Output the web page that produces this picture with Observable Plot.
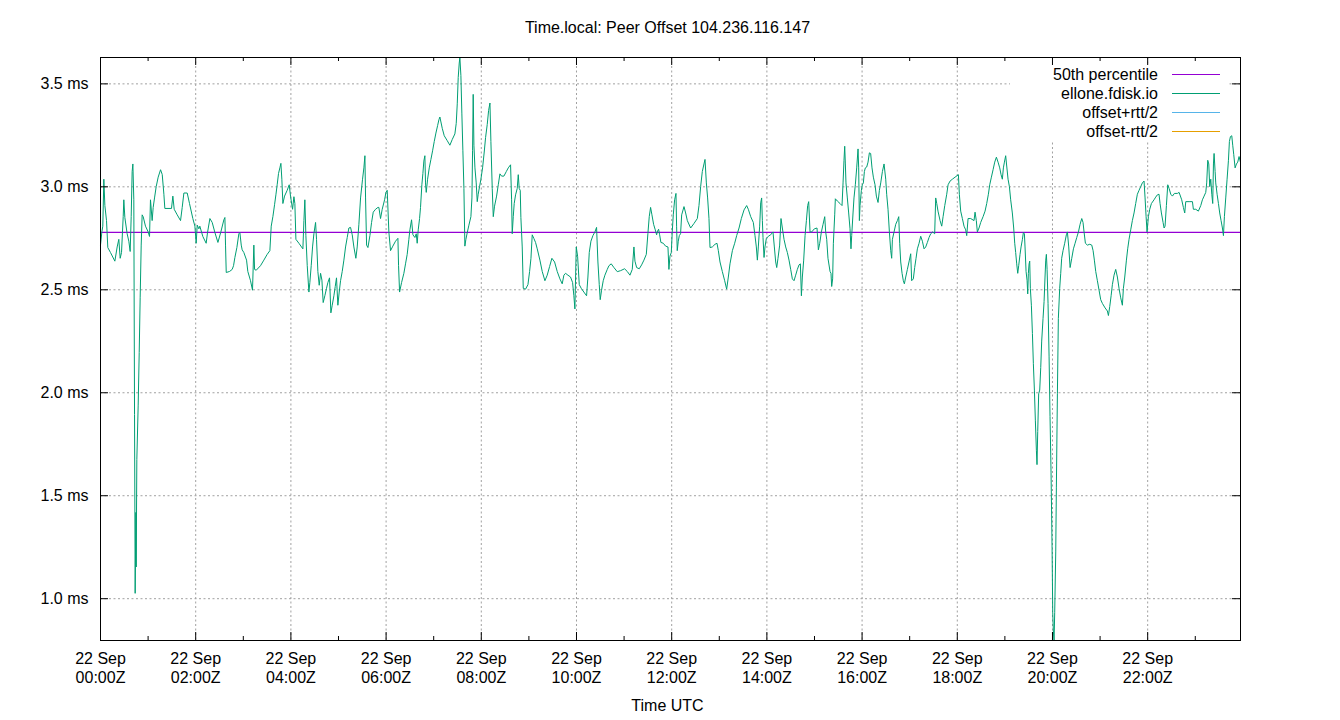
<!DOCTYPE html>
<html><head><meta charset="utf-8">
<script src="https://cdn.jsdelivr.net/npm/d3@7"></script>
<script src="https://cdn.jsdelivr.net/npm/@observablehq/plot@0.6"></script>
<style>
body{margin:0;background:#fff;font-family:"Liberation Sans",Arial,sans-serif;color:#000;}
#wrap{position:relative;width:1340px;height:720px;overflow:hidden;}
#title{height:40px;box-sizing:border-box;padding-top:19px;padding-right:5px;line-height:18px;font-size:16px;text-align:center;}
#legend{position:absolute;left:1010px;top:66px;width:218px;height:74px;background:#fff;}
.ltext{position:absolute;font-size:16px;line-height:19px;height:19px;white-space:nowrap;text-align:right;}
.lline{position:absolute;height:0;}
</style></head>
<body>
<div id="wrap">
<div id="title"></div>
<div id="chart"></div>
<div id="legend"></div>
</div>
<script>
const titleText = "Time.local: Peer Offset 104.236.116.147";
const xLabel = "Time UTC";
const dayLabel = "22 Sep";
const seriesNames = ["50th percentile", "ellone.fdisk.io", "offset+rtt/2", "offset-rtt/2"];
const seriesColors = ["#9400d3", "#009e73", "#56b4e9", "#e69f00"];
const median = 2.779;
const yTicks = [1.0, 1.5, 2.0, 2.5, 3.0, 3.5];
const xMajor = [0, 120, 240, 360, 480, 600, 720, 840, 960, 1080, 1200, 1320];
const xMinor = [60, 180, 300, 420, 540, 660, 780, 900, 1020, 1140, 1260, 1380];
const xDomain = [0, 1437];
const yDomain = [0.797, 3.628];

// minutes after 00:00Z
const times = [0,1.7,2.9,4.2,5.5,7.6,9.2,12.6,18.1,21.0,23.1,24.8,26.5,28.6,29.4,30.7,33.6,35.7,37.4,38.7,39.9,40.8,42.0,42.9,43.7,44.6,45.0,45.8,47.5,48.8,50.0,51.3,52.5,53.8,56.7,60.1,61.8,63.0,65.1,66.4,68.1,70.2,72.7,75.7,77.8,79.9,81.1,89.5,91.2,92.9,96.7,100.9,103.0,105.1,109.3,112.2,116.4,119.0,120.6,121.9,124.0,125.2,129.0,133.2,134.9,137.9,140.8,144.2,148.0,151.7,155.5,156.8,157.6,158.5,162.7,166.0,167.7,169.4,171.9,174.4,175.7,177.4,178.6,
180.7,184.1,185.7,189.1,191.6,193.3,194.2,196.3,201.7,205.9,210.1,213.5,215.2,217.3,219.4,221.1,222.7,224.4,226.1,227.4,228.6,229.9,232.0,235.3,237.9,239.5,242.1,243.8,245.0,246.3,250.1,253.4,255.1,256.4,257.6,258.9,260.6,262.7,263.9,265.6,267.3,269.0,271.1,272.3,274.0,275.7,277.4,279.1,280.7,282.8,284.9,286.6,288.7,290.4,292.1,294.2,295.9,297.5,299.2,300.9,302.6,304.7,306.8,308.9,311.0,313.1,315.2,317.3,319.4,321.9,323.6,325.7,327.8,330.3,332.0,333.3,334.1,335.4,337.1,339.6,341.7,343.8,346.7,349.7,350.9,353.0,355.1,358.1,359.8,361.4,
363.5,365.6,368.5,371.9,374.9,375.7,377.0,379.5,382.4,384.5,386.6,388.7,390.0,392.1,393.8,396.3,398.0,399.2,400.5,402.2,403.4,405.1,406.4,407.6,408.9,409.7,410.6,412.3,414.4,416.5,418.6,420.7,422.8,424.9,426.6,427.8,430.8,433.3,437.1,440.4,443.4,446.7,448.4,449.7,450.9,452.2,453.0,454.3,455.5,456.8,458.1,459.3,460.6,462.3,464.4,466.9,468.2,469.0,469.8,470.7,472.0,473.6,474.9,476.1,477.8,479.5,481.6,483.7,485.4,487.5,489.2,490.9,492.1,493.8,495.1,496.7,499.3,501.4,503.5,505.6,508.5,511.5,514.0,516.9,518.2,519.0,520.3,521.5,523.2,525.3,526.6,527.8,529.1,529.9,531.6,532.9,535.8,538.8,540.9,542.6,544.2,546.3,548.4,
550.5,553.9,556.8,560.2,563.1,566.1,569.0,572.4,575.7,579.1,582.0,584.1,586.2,589.2,592.5,595.1,596.7,598.0,599.7,601.4,603.5,606.0,609.3,612.7,614.4,616.1,618.2,620.7,623.2,625.3,627.0,628.7,629.9,631.6,633.7,635.8,638.8,640.9,643.8,647.2,651.4,655.6,660.6,664.0,667.4,670.3,672.4,673.7,675.8,679.1,682.1,685.0,688.0,690.0,691.7,693.4,695.1,697.2,699.3,701.0,702.2,703.5,704.8,706.4,709.4,712.3,715.3,716.5,717.8,719.5,720.7,722.0,723.7,725.4,726.2,727.0,728.3,729.6,731.2,
732.6,735.5,737.6,739.7,743.9,748.1,752.3,754.4,756.5,758.6,760.7,762.0,763.7,765.3,767.0,768.3,771.2,774.6,777.1,778.8,780.9,783.8,786.8,789.3,791.4,793.5,796.5,799.4,801.9,804.9,807.8,811.2,814.5,816.6,819.6,822.9,825.0,826.7,828.0,829.2,830.9,832.2,833.4,834.3,835.1,836.4,837.6,839.3,841.8,844.8,847.7,849.4,851.1,852.4,854.0,856.1,857.8,859.5,861.6,863.7,865.8,867.9,870.0,872.1,874.2,876.3,878.4,880.5,882.2,883.5,884.7,886.4,888.1,889.8,891.4,892.7,894.4,896.5,899.8,903.2,904.9,906.6,908.7,910.8,912.9,
914.1,915.4,917.0,919.6,920.8,921.7,922.9,923.8,925.5,926.3,928.8,932.2,934.7,936.0,937.2,938.1,938.9,939.7,941.4,943.1,944.8,946.0,946.9,948.6,949.8,951.5,953.2,954.9,955.7,956.6,957.4,959.1,960.3,961.6,962.9,964.1,965.8,967.5,969.2,970.8,972.5,974.2,976.3,978.0,980.1,981.8,983.5,985.6,987.7,989.8,991.0,992.7,994.4,996.1,997.3,998.2,1000.3,1002.4,1004.5,1006.2,1007.4,1008.7,1010.4,1012.0,1013.3,1015.0,1017.1,1019.6,1021.3,1022.5,1024.6,1026.3,1028.0,1029.7,1031.8,1033.9,1036.0,1038.1,1040.2,1042.3,1044.4,1046.5,1049.0,1051.5,1052.8,1054.1,1055.7,1058.3,1060.4,1062.1,1064.2,1066.7,1068.4,1070.9,1073.8,1077.2,1081.4,1082.6,1084.3,1086.4,1088.5,1090.6,1091.9,1093.6,1096.9,
1101.1,1102.4,1104.0,1105.3,1107.4,1109.5,1112.5,1115.0,1117.1,1119.2,1120.9,1123.0,1125.1,1127.2,1129.3,1131.4,1133.5,1135.2,1136.8,1138.1,1139.4,1141.0,1142.3,1144.0,1145.7,1147.3,1149.4,1151.1,1152.4,1153.6,1154.9,1156.2,1157.4,1159.1,1160.4,1162.1,1163.3,1164.6,1165.4,1166.7,1168.0,1168.8,1169.6,1170.5,1171.3,1172.1,1173.4,1174.7,1175.9,1177.2,1178.4,1179.7,1180.5,1181.4,1182.6,1183.9,1185.2,1186.4,1188.1,1189.4,1190.6,1191.5,1192.3,1193.2,1194.4,1195.7,1196.9,1198.2,1199.5,1200.3,1201.1,1202.0,1202.8,1204.1,1204.9,1206.2,1207.4,1209.1,1210.4,1211.6,1213.3,1215.4,1217.5,1218.8,1220.5,1222.2,1224.3,1226.4,1228.5,1230.6,1232.7,1234.8,1236.9,1238.5,1239.8,1241.5,1244.0,1247.0,1249.5,1251.2,1252.8,1254.5,1256.6,1258.7,1260.8,1262.9,1266.3,1269.2,1270.5,1272.2,1273.9,1275.5,1277.6,1279.7,
1281.8,1283.9,1286.0,1288.1,1289.4,1291.1,1293.2,1294.8,1296.5,1298.6,1300.7,1302.8,1304.9,1307.0,1309.1,1311.2,1313.3,1315.4,1316.7,1318.0,1319.2,1320.9,1322.6,1324.7,1328.0,1330.1,1332.2,1334.3,1335.6,1337.3,1339.4,1340.7,1341.9,1343.6,1345.3,1347.0,1349.1,1351.2,1353.7,1357.5,1359.6,1362.9,1365.0,1366.7,1368.0,1372.2,1376.4,1377.6,1380.6,1383.9,1386.9,1389.0,1391.1,1393.2,1394.4,1395.7,1397.0,1398.2,1399.5,1400.8,1402.0,1402.9,1403.7,1405.0,1405.8,1407.5,1409.2,1410.8,1412.5,1414.2,1415.5,1416.7,1418.4,1420.1,1421.8,1423.0,1424.3,1426.0,1427.2,1428.5,1430.2,1431.9,1433.5,1435.2,1436.9];

// peer offset, ms
const offsets = [2.717,2.781,2.809,3.037,2.909,2.836,2.705,2.681,2.639,2.708,2.745,2.653,2.681,2.855,2.937,2.851,2.772,2.736,2.686,2.855,3.074,3.111,2.937,1.894,1.026,1.419,1.154,1.675,1.940,2.196,2.461,2.717,2.864,2.855,2.809,2.781,2.759,2.937,2.836,2.900,2.946,3.001,3.047,3.083,3.060,2.964,2.895,2.895,2.955,2.891,2.864,2.836,2.900,2.970,2.970,2.919,2.846,2.809,2.726,2.814,2.796,2.809,2.759,2.726,2.778,2.846,2.827,2.778,2.730,2.781,2.840,2.851,2.717,2.584,2.589,2.599,2.617,2.657,2.705,2.772,2.778,2.717,2.694,
2.681,2.644,2.589,2.544,2.498,2.717,2.599,2.595,2.617,2.644,2.672,2.690,2.809,2.855,2.913,2.961,3.010,3.065,3.092,3.114,3.037,2.919,2.955,2.983,3.010,2.955,2.891,2.952,2.919,2.745,2.726,2.708,2.699,2.836,2.937,2.763,2.617,2.489,2.535,2.617,2.708,2.772,2.827,2.745,2.589,2.522,2.580,2.547,2.438,2.471,2.507,2.535,2.558,2.388,2.425,2.471,2.516,2.558,2.425,2.489,2.544,2.589,2.644,2.708,2.754,2.800,2.803,2.767,2.708,2.653,2.708,2.818,2.946,3.037,3.092,3.151,2.946,2.717,2.705,2.763,2.827,2.877,2.891,2.900,2.900,2.846,2.891,2.937,2.973,2.983,
2.781,2.690,2.712,2.736,2.750,2.617,2.489,2.535,2.580,2.626,2.672,2.745,2.791,2.840,2.767,2.754,2.772,2.726,2.791,2.846,2.900,3.010,3.065,3.125,3.151,3.019,2.973,3.037,3.092,3.133,3.175,3.220,3.261,3.297,3.326,3.339,3.284,3.248,3.224,3.202,3.230,3.257,3.308,3.403,3.531,3.601,3.628,3.540,3.358,3.175,2.992,2.712,2.745,2.778,2.814,2.855,2.946,3.175,3.449,3.202,3.092,3.019,2.928,2.964,3.001,3.037,3.092,3.169,3.239,3.303,3.370,3.407,3.220,2.992,2.855,2.906,2.955,3.010,3.063,3.052,3.052,3.074,3.092,3.107,2.937,2.772,2.855,2.919,2.961,2.992,3.059,2.992,2.983,2.851,2.708,2.507,2.503,2.525,2.589,2.653,2.767,2.749,2.730,
2.699,2.644,2.589,2.544,2.571,2.613,2.653,2.635,2.589,2.553,2.529,2.571,2.580,2.571,2.562,2.535,2.471,2.407,2.708,2.663,2.525,2.507,2.489,2.471,2.562,2.681,2.736,2.763,2.781,2.803,2.635,2.525,2.452,2.498,2.544,2.571,2.599,2.617,2.626,2.608,2.588,2.593,2.602,2.589,2.571,2.599,2.708,2.639,2.608,2.602,2.621,2.644,2.672,2.772,2.855,2.900,2.864,2.818,2.791,2.767,2.785,2.794,2.767,2.730,2.726,2.712,2.708,2.599,2.663,2.681,2.781,2.864,2.937,2.968,2.809,2.690,2.736,2.763,2.772,
2.864,2.904,2.873,2.836,2.800,2.822,2.846,2.909,3.001,3.074,3.111,3.133,3.019,2.946,2.846,2.705,2.708,2.721,2.726,2.690,2.635,2.589,2.544,2.503,2.562,2.626,2.690,2.726,2.763,2.800,2.846,2.888,2.909,2.891,2.855,2.827,2.763,2.708,2.644,2.708,2.809,2.922,2.946,2.836,2.754,2.657,2.708,2.749,2.760,2.767,2.781,2.708,2.635,2.608,2.653,2.717,2.846,2.800,2.745,2.708,2.681,2.644,2.599,2.553,2.544,2.571,2.599,2.621,2.626,2.471,2.562,2.644,2.763,2.836,2.909,2.928,2.781,2.781,2.796,2.800,2.694,2.726,2.781,2.818,2.855,
2.781,2.745,2.653,2.589,2.580,2.516,2.553,2.726,2.864,2.942,2.931,2.919,2.909,3.019,3.129,3.197,3.111,3.019,2.946,2.873,2.796,2.699,2.763,2.873,2.946,3.010,3.092,3.184,3.092,2.836,2.909,2.983,3.010,3.019,3.074,3.092,3.096,3.120,3.165,3.162,3.092,3.047,3.010,2.955,2.924,2.983,3.019,3.074,3.111,3.037,2.964,2.891,2.781,2.690,2.653,2.745,2.781,2.818,2.836,2.855,2.726,2.635,2.580,2.544,2.529,2.562,2.599,2.644,2.675,2.544,2.553,2.608,2.653,2.699,2.726,2.760,2.736,2.699,2.708,2.730,2.754,2.772,2.781,2.772,2.946,2.919,2.882,2.836,2.809,2.855,2.909,2.964,3.010,3.028,3.037,3.047,3.059,2.964,2.882,2.846,2.809,2.791,2.763,2.846,2.846,
2.836,2.877,2.836,2.781,2.800,2.827,2.855,2.882,2.919,2.964,3.010,3.047,3.083,3.120,3.144,3.120,3.092,3.059,3.037,3.092,3.120,3.151,3.101,3.037,3.001,2.937,2.873,2.800,2.726,2.681,2.626,2.580,2.617,2.672,2.708,2.745,2.778,2.772,2.708,2.589,2.544,2.480,2.580,2.626,2.639,2.507,2.425,2.288,2.141,2.013,1.867,1.721,1.651,1.812,1.995,2.013,2.123,2.251,2.361,2.443,2.562,2.644,2.672,2.599,2.434,2.178,1.885,1.611,1.245,0.934,0.843,0.797,0.934,1.227,1.538,1.995,2.361,2.507,2.580,2.653,2.690,2.726,2.767,2.781,2.708,2.608,2.653,2.699,2.726,2.754,2.781,2.818,2.846,2.827,2.781,2.726,2.717,2.721,2.717,2.690,2.644,2.589,2.544,2.498,2.452,2.434,2.412,2.397,2.375,2.419,2.471,2.525,2.571,2.599,
2.562,2.507,2.461,2.425,2.507,2.562,2.644,2.699,2.745,2.791,2.836,2.873,2.919,2.964,2.983,3.001,3.019,3.028,2.946,2.855,2.781,2.855,2.891,2.919,2.937,2.950,2.961,2.964,2.919,2.873,2.827,2.800,2.809,2.909,3.010,2.992,2.964,2.955,2.968,2.968,2.973,2.937,2.900,2.873,2.928,2.928,2.928,2.891,2.891,2.882,2.909,2.937,2.955,2.973,3.019,3.129,3.111,3.001,3.037,2.964,2.919,3.111,3.162,3.074,3.019,2.964,2.919,2.873,2.836,2.800,2.763,2.855,2.946,3.037,3.129,3.220,3.244,3.248,3.202,3.156,3.092,3.111,3.120,3.147,3.120];

const data = times.map((t, i) => ({t, v: offsets[i]}));

document.getElementById("title").textContent = titleText;

const W = 1340, H = 680;
const mt = 17, mb = 80, ml = 100, mr = 100;
const plotH = H - mt - mb;
const plotW = W - ml - mr;
const pad2 = n => String(n).padStart(2, "0");
const gridStyle = {stroke: "#a0a0a0", strokeOpacity: 1, strokeWidth: 1, strokeDasharray: "2,2.5"};

const chart = Plot.plot({
  width: W, height: H,
  marginTop: mt, marginBottom: mb, marginLeft: ml, marginRight: mr,
  style: {fontFamily: "'Liberation Sans', Arial, sans-serif", fontSize: "16px", color: "#000", background: "#fff", overflow: "visible"},
  x: {type: "linear", domain: xDomain},
  y: {type: "linear", domain: yDomain},
  marks: [
    Plot.gridX(xMajor.filter(d => d > 0), gridStyle),
    Plot.gridY(yTicks, gridStyle),
    Plot.ruleY([median], {stroke: seriesColors[0], strokeWidth: 1.25}),
    Plot.line(data, {x: "t", y: "v", stroke: seriesColors[1], strokeWidth: 1}),
    Plot.frame({stroke: "#000", strokeWidth: 1}),
    Plot.ruleX(xMajor, {stroke: "#000", insetTop: plotH - 8}),
    Plot.ruleX(xMajor, {stroke: "#000", insetBottom: plotH - 8}),
    Plot.ruleX(xMinor, {stroke: "#000", insetTop: plotH - 4}),
    Plot.ruleX(xMinor, {stroke: "#000", insetBottom: plotH - 4}),
    Plot.ruleY(yTicks, {stroke: "#000", insetRight: plotW - 8}),
    Plot.ruleY(yTicks, {stroke: "#000", insetLeft: plotW - 8}),
    Plot.axisX(xMajor, {tickSize: 0, tickPadding: 10, label: null, lineHeight: 1.17, fill: "#000",
      tickFormat: d => `${dayLabel}\n${pad2(d / 60)}:00Z`}),
    Plot.axisY(yTicks, {tickSize: 0, tickPadding: 12, label: null, fill: "#000",
      tickFormat: d => `${d.toFixed(1)} ms`}),
    Plot.text([xLabel], {frameAnchor: "bottom", dy: 70, dx: -3, fill: "#000"})
  ]
});
document.getElementById("chart").appendChild(chart);

// legend (gnuplot-style key inside the plot, opaque box)
const legend = document.getElementById("legend");
const rowCenters = [8, 27, 46, 65];
seriesNames.forEach((name, i) => {
  const t = document.createElement("div");
  t.className = "ltext";
  t.textContent = name;
  t.style.right = (1228 - 1158) + "px";
  t.style.top = (rowCenters[i] - 9.5) + "px";
  legend.appendChild(t);
  const l = document.createElement("div");
  l.className = "lline";
  l.style.left = (1172 - 1010) + "px";
  l.style.width = "48px";
  l.style.top = (rowCenters[i]) + "px";
  l.style.borderTop = `1px solid ${seriesColors[i]}`;
  legend.appendChild(l);
});
</script>
</body></html>
